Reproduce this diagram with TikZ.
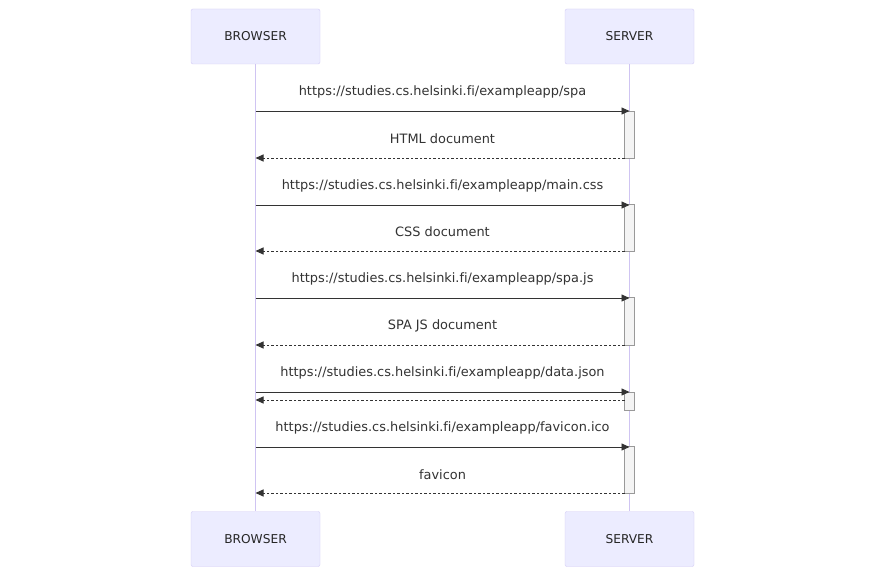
\documentclass[tikz,border=0pt]{standalone}
\usepackage{fontspec}
\setmainfont[Ligatures=NoCommon]{DejaVu Sans}
\usetikzlibrary{arrows.meta}
\definecolor{actfill}{HTML}{ECECFF}
\definecolor{actdraw}{HTML}{D4CCF5}
\definecolor{lifeline}{HTML}{CFC4F2}
\definecolor{msg}{HTML}{333333}
\definecolor{barfill}{HTML}{F4F4F4}
\definecolor{bardraw}{HTML}{999999}
\begin{document}
\begin{tikzpicture}[x=1pt,y=-1pt,
  actor/.style={draw=actdraw,fill=actfill,rounded corners=2pt,minimum width=129pt,minimum height=55pt,inner sep=0pt,font=\fontsize{12.2}{14}\selectfont,text=black!85},
  bar/.style={draw=bardraw,fill=barfill,line width=0.8pt},
  call/.style={draw=msg,line width=0.9pt,-{Triangle[length=8pt,width=7pt]}},
  reply/.style={draw=msg,line width=0.9pt,dash pattern=on 2.5pt off 2pt,-{Triangle[length=8pt,width=7pt]}},
  lbl/.style={font=\fontsize{12.9}{15}\selectfont,text=black!80,inner sep=0pt}]
\useasboundingbox (0,0) rectangle (885,577);
\fill[white] (0,0) rectangle (885,577);
\node[actor] (bt) at (255.5,36.5) {BROWSER};
\node[actor] (st) at (629.5,36.5) {SERVER};
\node[actor] (bb) at (255.5,539) {BROWSER};
\node[actor] (sb) at (629.5,539) {SERVER};
\draw[lifeline,line width=1pt] (bt.south) -- (bb.north);
\draw[lifeline,line width=1pt] (st.south) -- (sb.north);
% activation bars
\foreach \t/\b in {111/158,204/251,297/345,392/410,446/493}{
  \draw[bar] (624.5,\t) rectangle (634.5,\b);
}
\foreach \y/\n in {111/c1,158/r1,205/c2,251/r2,298/c3,345/r3,392/c4,400/r4,447/c5,493/r5}{
  \coordinate (b\n) at (255.5,\y);
}
\coordinate (sc1) at (629.5,111);
\coordinate (sc2) at (629.5,205);
\coordinate (sc3) at (629.5,298);
\coordinate (sc4) at (629.5,392);
\coordinate (sc5) at (629.5,447);
\coordinate (sr1) at (624.5,158);
\coordinate (sr2) at (624.5,251);
\coordinate (sr3) at (624.5,345);
\coordinate (sr4) at (624.5,400);
\coordinate (sr5) at (624.5,493);
\draw[call] (bc1) -- (sc1);
\draw[reply] (sr1) -- (br1);
\draw[call] (bc2) -- (sc2);
\draw[reply] (sr2) -- (br2);
\draw[call] (bc3) -- (sc3);
\draw[reply] (sr3) -- (br3);
\draw[call] (bc4) -- (sc4);
\draw[reply] (sr4) -- (br4);
\draw[call] (bc5) -- (sc5);
\draw[reply] (sr5) -- (br5);
\node[lbl] (t1) at (442.5,91.5) {https://studies.cs.helsinki.fi/exampleapp/spa};
\node[lbl] (t2) at (442.5,138.5) {HTML document};
\node[lbl] (t3) at (442.5,185.5) {https://studies.cs.helsinki.fi/exampleapp/main.css};
\node[lbl] (t4) at (442.5,231.5) {CSS document};
\node[lbl] (t5) at (442.5,278.5) {https://studies.cs.helsinki.fi/exampleapp/spa.js};
\node[lbl] (t6) at (442.5,325.5) {SPA JS document};
\node[lbl] (t7) at (442.5,372.5) {https://studies.cs.helsinki.fi/exampleapp/data.json};
\node[lbl] (t8) at (442.5,427.5) {https://studies.cs.helsinki.fi/exampleapp/favicon.ico};
\node[lbl] (t9) at (442.5,474.5) {favicon};
\end{tikzpicture}
\end{document}
